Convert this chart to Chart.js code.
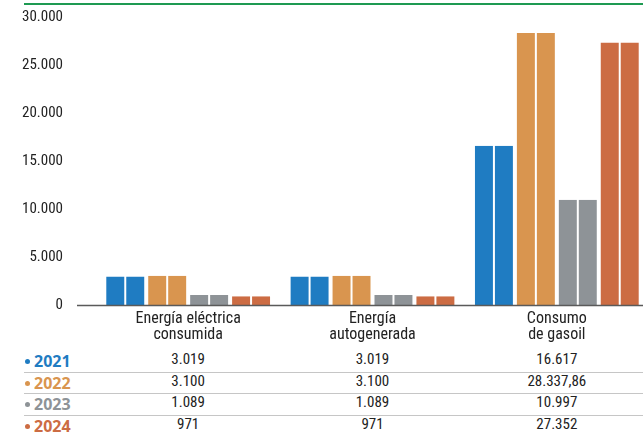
<!DOCTYPE html>
<html>
<head>
<meta charset="utf-8">
<script src="https://cdn.jsdelivr.net/npm/chart.js@4"></script>
<style>
  html, body { margin: 0; padding: 0; background: #fff; overflow: hidden; }
  #wrap { position: relative; width: 643px; height: 436px; overflow: hidden; }
  #chart { position: absolute; left: 0; top: 0; }
  .sep { position: absolute; left: 24px; width: 619px; height: 1px; background: #c6c6c6; }
  .year { position: absolute; left: 24px; height: 22px; line-height: 22px;
          font: 700 16px "Open Sans", sans-serif; }
  .year i { display: inline-block; width: 5px; height: 5px; border-radius: 50%;
            margin: 0 4px 0 1px; vertical-align: 3px; }
  .val { position: absolute; width: 120px; height: 22px; line-height: 22px; text-align: center;
         font: 15px "Roboto Condensed", sans-serif; color: #222; }
</style>
</head>
<body>
<div id="wrap">
  <canvas id="chart" width="649" height="346"></canvas>
  <div id="table"></div>
</div>
<script>
const categories = [["Energía eléctrica", "consumida"], ["Energía", "autogenerada"], ["Consumo", "de gasoil"]];
const years = ["2021", "2022", "2023", "2024"];
const colors = ["#1f7cc2", "#d9954f", "#8e9397", "#cc6c43"];
const v2021 = [3019, 3019, 16617];
const v2022 = [3100, 3100, 28337.86];
const v2023 = [1089, 1089, 10997];
const v2024 = [971, 971, 27352];
const series = [v2021, v2022, v2023, v2024];
const yMax = 30000;
const yStep = 5000;

const condensed = '"Roboto Condensed", "DejaVu Sans Condensed", sans-serif';

// 3019 -> "3.019", 28337.86 -> "28.337,86"
function fmt(n) {
  const [i, d] = String(n).split('.');
  return i.replace(/\B(?=(\d{3})+(?!\d))/g, '.') + (d ? ',' + d : '');
}

// every year is drawn as a pair of twin bars, white side borders make the gaps
const datasets = [];
series.forEach((vals, k) => {
  datasets.push({ label: years[k], data: vals, backgroundColor: colors[k], borderColor: '#fff',
    borderWidth: { left: 2, right: 1, top: 0, bottom: 0 } });
  datasets.push({ label: years[k], data: vals, backgroundColor: colors[k], borderColor: '#fff',
    borderWidth: { left: 1, right: 2, top: 0, bottom: 0 } });
});

// green rule on top and the baseline that runs past the y labels
const decor = {
  id: 'decor',
  afterDatasetsDraw(chart) {
    const ctx = chart.ctx;
    const y0 = chart.scales.y.getPixelForValue(0);
    ctx.save();
    ctx.strokeStyle = '#1e9a52';
    ctx.lineWidth = 2;
    ctx.beginPath();
    ctx.moveTo(24, 4);
    ctx.lineTo(chart.width, 4);
    ctx.stroke();
    ctx.strokeStyle = '#5a5a5a';
    ctx.lineWidth = 1.5;
    ctx.beginPath();
    ctx.moveTo(77, y0);
    ctx.lineTo(chart.width, y0);
    ctx.stroke();
    ctx.restore();
  }
};

const chart = new Chart(document.getElementById('chart'), {
  type: 'bar',
  data: { labels: categories, datasets: datasets },
  options: {
    responsive: false,
    animation: false,
    layout: { padding: { top: 17, left: 0, right: 0, bottom: 0 } },
    categoryPercentage: 0.91,
    barPercentage: 1,
    plugins: { legend: { display: false }, tooltip: { enabled: false } },
    scales: {
      x: {
        grid: { display: false, drawTicks: false },
        border: { display: false },
        ticks: { color: '#222', padding: 5, maxRotation: 0, autoSkip: false,
                 font: { family: condensed, size: 16, lineHeight: 1.0 } },
        afterFit(scale) { scale.height = 40.5; }
      },
      y: {
        min: 0,
        max: yMax,
        grid: { display: false, drawTicks: false },
        border: { display: false },
        ticks: { stepSize: yStep, color: '#222', padding: 33,
                 font: { family: condensed, size: 15 },
                 callback: v => fmt(v) },
        // tick padding also pads the axis vertically; keep only the horizontal gap
        afterFit(scale) {
          scale.width = 96;
          scale.paddingTop = 0;
          scale.paddingBottom = 0;
        }
      }
    }
  },
  plugins: [decor]
});

// value table under the chart, one column per category
const table = document.getElementById('table');
const rowTop = [349.5, 371.5, 393, 414.5];
[371.5, 393, 414.5].forEach(t => {
  const d = document.createElement('div');
  d.className = 'sep';
  d.style.top = t + 'px';
  table.appendChild(d);
});
years.forEach((yr, k) => {
  const y = document.createElement('div');
  y.className = 'year';
  y.style.top = rowTop[k] + 'px';
  y.style.color = colors[k];
  y.innerHTML = '<i style="background:' + colors[k] + '"></i>' + yr;
  table.appendChild(y);
  series[k].forEach((v, c) => {
    const cx = chart.scales.x.getPixelForValue(c);
    const d = document.createElement('div');
    d.className = 'val';
    d.style.top = rowTop[k] + 'px';
    d.style.left = (cx - 60) + 'px';
    d.textContent = fmt(v);
    table.appendChild(d);
  });
});
</script>
</body>
</html>
